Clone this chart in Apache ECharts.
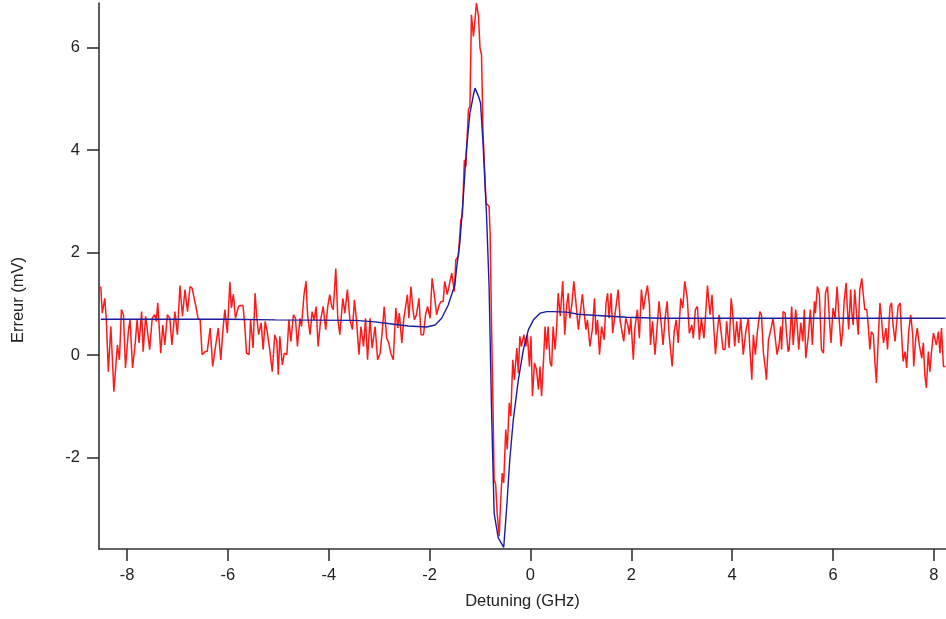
<!DOCTYPE html>
<html>
<head>
<meta charset="utf-8">
<title>Erreur vs Detuning</title>
<script src="https://cdn.jsdelivr.net/npm/echarts/dist/echarts.min.js"></script>
<style>
    html, body { margin: 0; padding: 0; background: #fff; }
    #main { width: 946px; height: 619px; }
</style>
</head>
<body>
<div id="main"></div>
<script>
// measured error signal (red), x in GHz, y in mV
var measDetuning = [
    -8.52, -8.49, -8.44, -8.41, -8.37, -8.32, -8.26, -8.19, -8.15, -8.11, -8.07, -8.03, -7.97, -7.94, -7.89, -7.84,
    -7.80, -7.76, -7.71, -7.68, -7.63, -7.60, -7.55, -7.50, -7.45, -7.42, -7.39, -7.33, -7.29, -7.25, -7.20, -7.15,
    -7.11, -7.05, -7.00, -6.95, -6.90, -6.85, -6.80, -6.75, -6.71, -6.64, -6.59, -6.55, -6.51, -6.45, -6.41, -6.35,
    -6.30, -6.24, -6.19, -6.14, -6.10, -6.06, -6.01, -5.96, -5.93, -5.89, -5.85, -5.79, -5.75, -5.70, -5.67, -5.63,
    -5.58, -5.55, -5.50, -5.46, -5.43, -5.39, -5.34, -5.30, -5.26, -5.22, -5.17, -5.12, -5.07, -5.03, -5.00,
    -4.97, -4.92, -4.88, -4.83, -4.79, -4.75, -4.70, -4.66, -4.62, -4.57, -4.54, -4.49, -4.45, -4.42, -4.37, -4.33,
    -4.29, -4.25, -4.21, -4.16, -4.11, -4.06, -4.02, -3.98, -3.94, -3.91, -3.86, -3.82, -3.78, -3.72, -3.68, -3.63,
    -3.58, -3.53, -3.49, -3.45, -3.40, -3.36, -3.31, -3.27, -3.23, -3.18, -3.14, -3.08, -3.03, -2.98, -2.94, -2.90,
    -2.85, -2.81, -2.77, -2.72, -2.67, -2.63, -2.60, -2.55, -2.51, -2.47, -2.44, -2.41, -2.37, -2.33, -2.30, -2.26,
    -2.21, -2.17, -2.12, -2.08, -2.04, -1.99, -1.95, -1.91, -1.86, -1.81, -1.77, -1.73, -1.70, -1.65, -1.61, -1.56,
    -1.51, -1.48, -1.43, -1.38, -1.35, -1.31, -1.28, -1.23, -1.20, -1.17, -1.13, -1.10, -1.07, -1.03, -1.00, -0.97,
    -0.94, -0.88, -0.82, -0.80, -0.77, -0.74, -0.72, -0.69, -0.66, -0.62, -0.59, -0.56, -0.53, -0.49, -0.46, -0.42,
    -0.39, -0.35, -0.32, -0.27, -0.24, -0.21, -0.18, -0.13, -0.09, -0.06, -0.02, 0.01, 0.04, 0.08, 0.12, 0.16,
    0.19, 0.22, 0.26, 0.29, 0.32, 0.35, 0.39, 0.42, 0.45, 0.49, 0.52, 0.55, 0.59, 0.64, 0.68, 0.72,
    0.75, 0.78, 0.82, 0.86, 0.90, 0.95, 0.98, 1.03, 1.06, 1.10, 1.13, 1.18, 1.23, 1.27, 1.30, 1.33,
    1.37, 1.41, 1.46, 1.50, 1.53, 1.56, 1.60, 1.63, 1.68, 1.71, 1.74, 1.78, 1.81, 1.85, 1.89, 1.93,
    1.96, 1.99, 2.04, 2.07, 2.12, 2.16, 2.20, 2.24, 2.28, 2.32, 2.36, 2.38, 2.42, 2.47, 2.52, 2.55,
    2.60, 2.63, 2.67, 2.71, 2.75, 2.81, 2.85, 2.89, 2.93, 2.98, 3.02, 3.06, 3.11, 3.15, 3.20, 3.23,
    3.27, 3.31, 3.35, 3.39, 3.44, 3.48, 3.51, 3.56, 3.60, 3.64, 3.67, 3.70, 3.74, 3.78, 3.82, 3.86,
    3.89, 3.94, 3.98, 4.01, 4.05, 4.09, 4.13, 4.17, 4.22, 4.27, 4.32, 4.35, 4.39, 4.42, 4.46, 4.50,
    4.55, 4.58, 4.62, 4.65, 4.68, 4.72, 4.75, 4.78, 4.81, 4.85, 4.89, 4.93, 4.96, 4.98, 5.01, 5.05,
    5.08, 5.11, 5.13, 5.18, 5.21, 5.26, 5.29, 5.32, 5.36, 5.40, 5.43, 5.46, 5.51, 5.55, 5.59, 5.63,
    5.65, 5.69, 5.73, 5.77, 5.81, 5.85, 5.89, 5.93, 5.96, 6.00, 6.04, 6.08, 6.12, 6.16, 6.19, 6.22,
    6.26, 6.28, 6.31, 6.35, 6.37, 6.40, 6.43, 6.47, 6.50, 6.53, 6.57, 6.60, 6.63, 6.67, 6.70, 6.73,
    6.76, 6.80, 6.83, 6.86, 6.90, 6.93, 6.96, 7.00, 7.05, 7.08, 7.13, 7.16, 7.19, 7.23, 7.26, 7.29,
    7.33, 7.36, 7.39, 7.43, 7.46, 7.50, 7.54, 7.58, 7.60, 7.64, 7.67, 7.71, 7.76, 7.79, 7.82, 7.85,
    7.89, 7.92, 7.95, 7.99, 8.02, 8.05, 8.09, 8.12, 8.15, 8.19, 8.23
];
var measError = [
    1.34, 0.82, 1.11, 0.69, -0.32, 0.56, -0.71, 0.20, -0.09, 0.89, 0.79, -0.25, 0.50, 0.69, -0.25, 0.20,
    0.69, 0.24, 0.85, 0.07, 0.76, 0.79, 0.11, 0.72, 0.79, 0.66, 1.02, 0.04, 0.59, 0.20, 0.79, 0.72,
    0.20, 0.85, 0.40, 1.36, 0.76, 1.28, 0.85, 1.34, 1.31, 0.98, 0.72, 0.69, 0.01, 0.07, 0.07, 0.53,
    -0.22, 0.20, 0.53, -0.09, 0.46, 0.89, 0.43, 1.43, 0.92, 1.19, 0.72, 0.95, 0.97, 0.97, 0.66, 0.04,
    0.01, 0.69, 0.14, 1.21, 0.79, 0.40, 0.63, 0.11, 0.66, 0.46, 0.11, -0.32, 0.40, 0.27, -0.38,
    0.37, -0.19, 0.04, 0.01, 0.69, 0.27, 0.79, 0.72, 0.17, 0.72, 0.56, 1.18, 1.44, 0.79, 0.40, 0.85,
    0.69, 0.95, 0.17, 0.69, 0.95, 0.50, 0.95, 1.18, 0.95, 0.89, 1.69, 0.72, 0.40, 1.11, 0.82, 1.28,
    0.69, 0.50, 1.08, 0.69, 0.01, 0.56, 0.17, 0.72, -0.09, 0.72, 0.14, 0.56, -0.09, 0.04, 0.46, 0.95,
    0.33, 0.24, 0.04, -0.09, 0.92, 0.53, 0.82, 0.24, 0.72, 0.98, 1.18, 0.72, 1.34, 0.89, 0.69, 0.79,
    1.11, 0.40, 0.40, 0.79, 0.95, 0.72, 1.50, 1.21, 0.79, 0.98, 1.05, 1.05, 1.44, 1.18, 1.37, 1.60,
    1.24, 1.86, 1.93, 2.64, 2.71, 3.81, 3.68, 4.79, 4.85, 6.64, 6.22, 6.54, 6.87, 6.61, 5.99, 5.86,
    4.33, 2.97, 2.90, 2.38, 0.50, -1.13, -2.43, -2.52, -3.08, -3.53, -2.82, -2.30, -2.49, -1.45, -1.84, -0.93,
    -1.19, -0.09, -0.48, 0.14, -0.35, 0.37, 0.17, 0.40, 0.17, 0.40, -0.22, 0.37, -0.80, -0.15, -0.28, -0.67,
    -0.22, -0.80, -0.09, 0.56, 0.11, 0.56, -0.15, -0.22, 0.56, 0.11, 0.56, 1.21, 0.76, 1.44, 0.40, 0.98,
    1.21, 0.72, 0.98, 1.44, 1.05, 0.50, 0.50, 1.19, 1.19, 0.50, 0.69, 0.17, 0.53, 1.11, 0.40, 0.69,
    0.01, 0.56, 0.30, 1.02, 1.21, 0.72, 1.21, 0.43, 0.82, 1.05, 1.28, 0.66, 0.69, 0.27, 0.72, 0.59,
    0.40, 0.72, -0.09, 0.53, 0.89, 0.33, 1.28, 0.89, 1.15, 1.36, 0.98, 0.20, 0.66, 0.01, 0.66, 1.05,
    0.53, 0.20, 0.72, 1.05, 0.40, -0.22, 0.46, 0.69, 0.24, 1.11, 0.92, 1.44, 1.11, 0.43, 0.59, 0.33,
    0.89, 0.95, 0.30, 0.72, 0.33, 0.89, 1.36, 0.79, 1.18, 0.46, 0.02, 0.40, 0.79, 0.46, 0.11, 0.11,
    0.66, 0.14, 1.11, 0.82, 0.17, 0.66, 0.24, 0.72, 0.01, 0.46, 0.72, 0.14, -0.48, 0.40, 0.01, 0.46,
    0.85, 0.79, 0.04, -0.19, -0.48, 0.30, 0.30, 0.56, 0.72, 0.37, 0.01, 0.20, 0.56, 0.11, 0.85, 0.82,
    0.40, 0.07, 0.11, 0.95, 0.20, 0.89, 0.59, 0.11, 0.63, 0.27, 0.89, -0.06, 0.37, 0.89, 0.20, 1.05,
    0.82, 1.34, 1.18, 0.11, 0.04, 1.21, 1.34, 0.66, 0.24, 0.92, 0.72, 1.34, 0.72, 0.17, 0.46, 1.05,
    1.41, 0.98, 0.50, 1.28, 0.85, 0.59, 1.28, 0.76, 0.40, 1.28, 1.50, 1.18, 0.89, 0.89, 0.56, 0.11,
    0.46, 0.40, -0.12, -0.54, 0.40, 1.02, 0.72, 0.24, 0.53, 0.11, 0.95, 1.02, 0.59, 0.27, 0.30, 0.95,
    1.02, 0.40, -0.12, 0.07, -0.25, 0.46, 0.79, 0.40, -0.22, 0.33, 0.53, 0.20, -0.06, 0.24, -0.38, -0.64,
    0.07, -0.32, 0.04, 0.43, 0.46, 0.20, 0.46, 0.04, 0.53, -0.22, -0.22
];

// fitted curve (blue)
var fitDetuning = [
    -8.52, -6.00, -5.06, -3.48, -3.08, -2.75, -2.42, -2.06, -1.89, -1.76, -1.63, -1.50, -1.46, -1.40, -1.33, -1.27,
    -1.20, -1.13, -1.10, -1.03, -0.99, -0.94, -0.87, -0.82, -0.77, -0.72, -0.64, -0.53, -0.47, -0.41, -0.34, -0.24,
    -0.14, -0.04, 0.06, 0.19, 0.32, 0.45, 0.72, 0.95, 1.25, 1.58, 1.91, 2.57, 4.55, 8.23
];
var fitError = [
    0.70, 0.70, 0.69, 0.68, 0.65, 0.61, 0.57, 0.55, 0.59, 0.72, 0.98, 1.37, 1.73, 2.19, 3.10, 4.01,
    4.72, 5.08, 5.21, 5.05, 4.92, 4.14, 2.71, 1.34, -1.13, -3.08, -3.56, -3.75, -2.95, -2.04, -1.26, -0.48,
    0.11, 0.50, 0.69, 0.82, 0.85, 0.85, 0.84, 0.80, 0.78, 0.76, 0.74, 0.72, 0.72, 0.72
];

var xTicks = [-8, -6, -4, -2, 0, 2, 4, 6, 8];
var yTicks = [-2, 0, 2, 4, 6];

var FONT = "'Liberation Sans', Arial, sans-serif";

function zip(xs, ys) {
    var out = [];
    for (var i = 0; i < xs.length; i++) {
        out.push([xs[i], ys[i]]);
    }
    return out;
}

var chart = echarts.init(document.getElementById('main'));

var axisLineStyle = { color: '#333', width: 1.6 };

chart.setOption({
    animation: false,
    backgroundColor: '#fff',
    grid: { left: 99, right: 0, top: 3, bottom: 70 },
    xAxis: {
        type: 'value',
        min: -8.555,
        max: 8.24,
        name: 'Detuning (GHz)',
        nameLocation: 'middle',
        nameGap: 44,
        nameTextStyle: { fontFamily: FONT, fontSize: 16.5, color: '#222' },
        axisLine: { show: true, onZero: false, lineStyle: axisLineStyle },
        axisTick: { show: true, length: 12, customValues: xTicks, lineStyle: axisLineStyle },
        axisLabel: { customValues: xTicks, margin: 18, fontFamily: FONT, fontSize: 16.5, color: '#222' },
        splitLine: { show: false }
    },
    yAxis: {
        type: 'value',
        min: -3.78,
        max: 6.87,
        axisLine: { show: true, onZero: false, lineStyle: axisLineStyle },
        axisTick: { show: true, length: 12, customValues: yTicks, lineStyle: axisLineStyle },
        axisLabel: { customValues: yTicks, margin: 19, fontFamily: FONT, fontSize: 16.5, color: '#222' },
        splitLine: { show: false }
    },
    graphic: [{
        type: 'text',
        x: 18,
        y: 300,
        rotation: Math.PI / 2,
        style: {
            text: 'Erreur (mV)',
            font: '16.5px ' + FONT,
            fill: '#222',
            align: 'center',
            verticalAlign: 'middle'
        }
    }],
    series: [
        {
            name: 'mesure',
            type: 'line',
            data: zip(measDetuning, measError),
            showSymbol: false,
            lineStyle: { color: '#ff1a1a', width: 1.5 },
            z: 2
        },
        {
            name: 'ajustement',
            type: 'line',
            data: zip(fitDetuning, fitError),
            showSymbol: false,
            lineStyle: { color: '#1c1ca0', width: 1.4 },
            z: 3
        }
    ]
});
</script>
</body>
</html>
